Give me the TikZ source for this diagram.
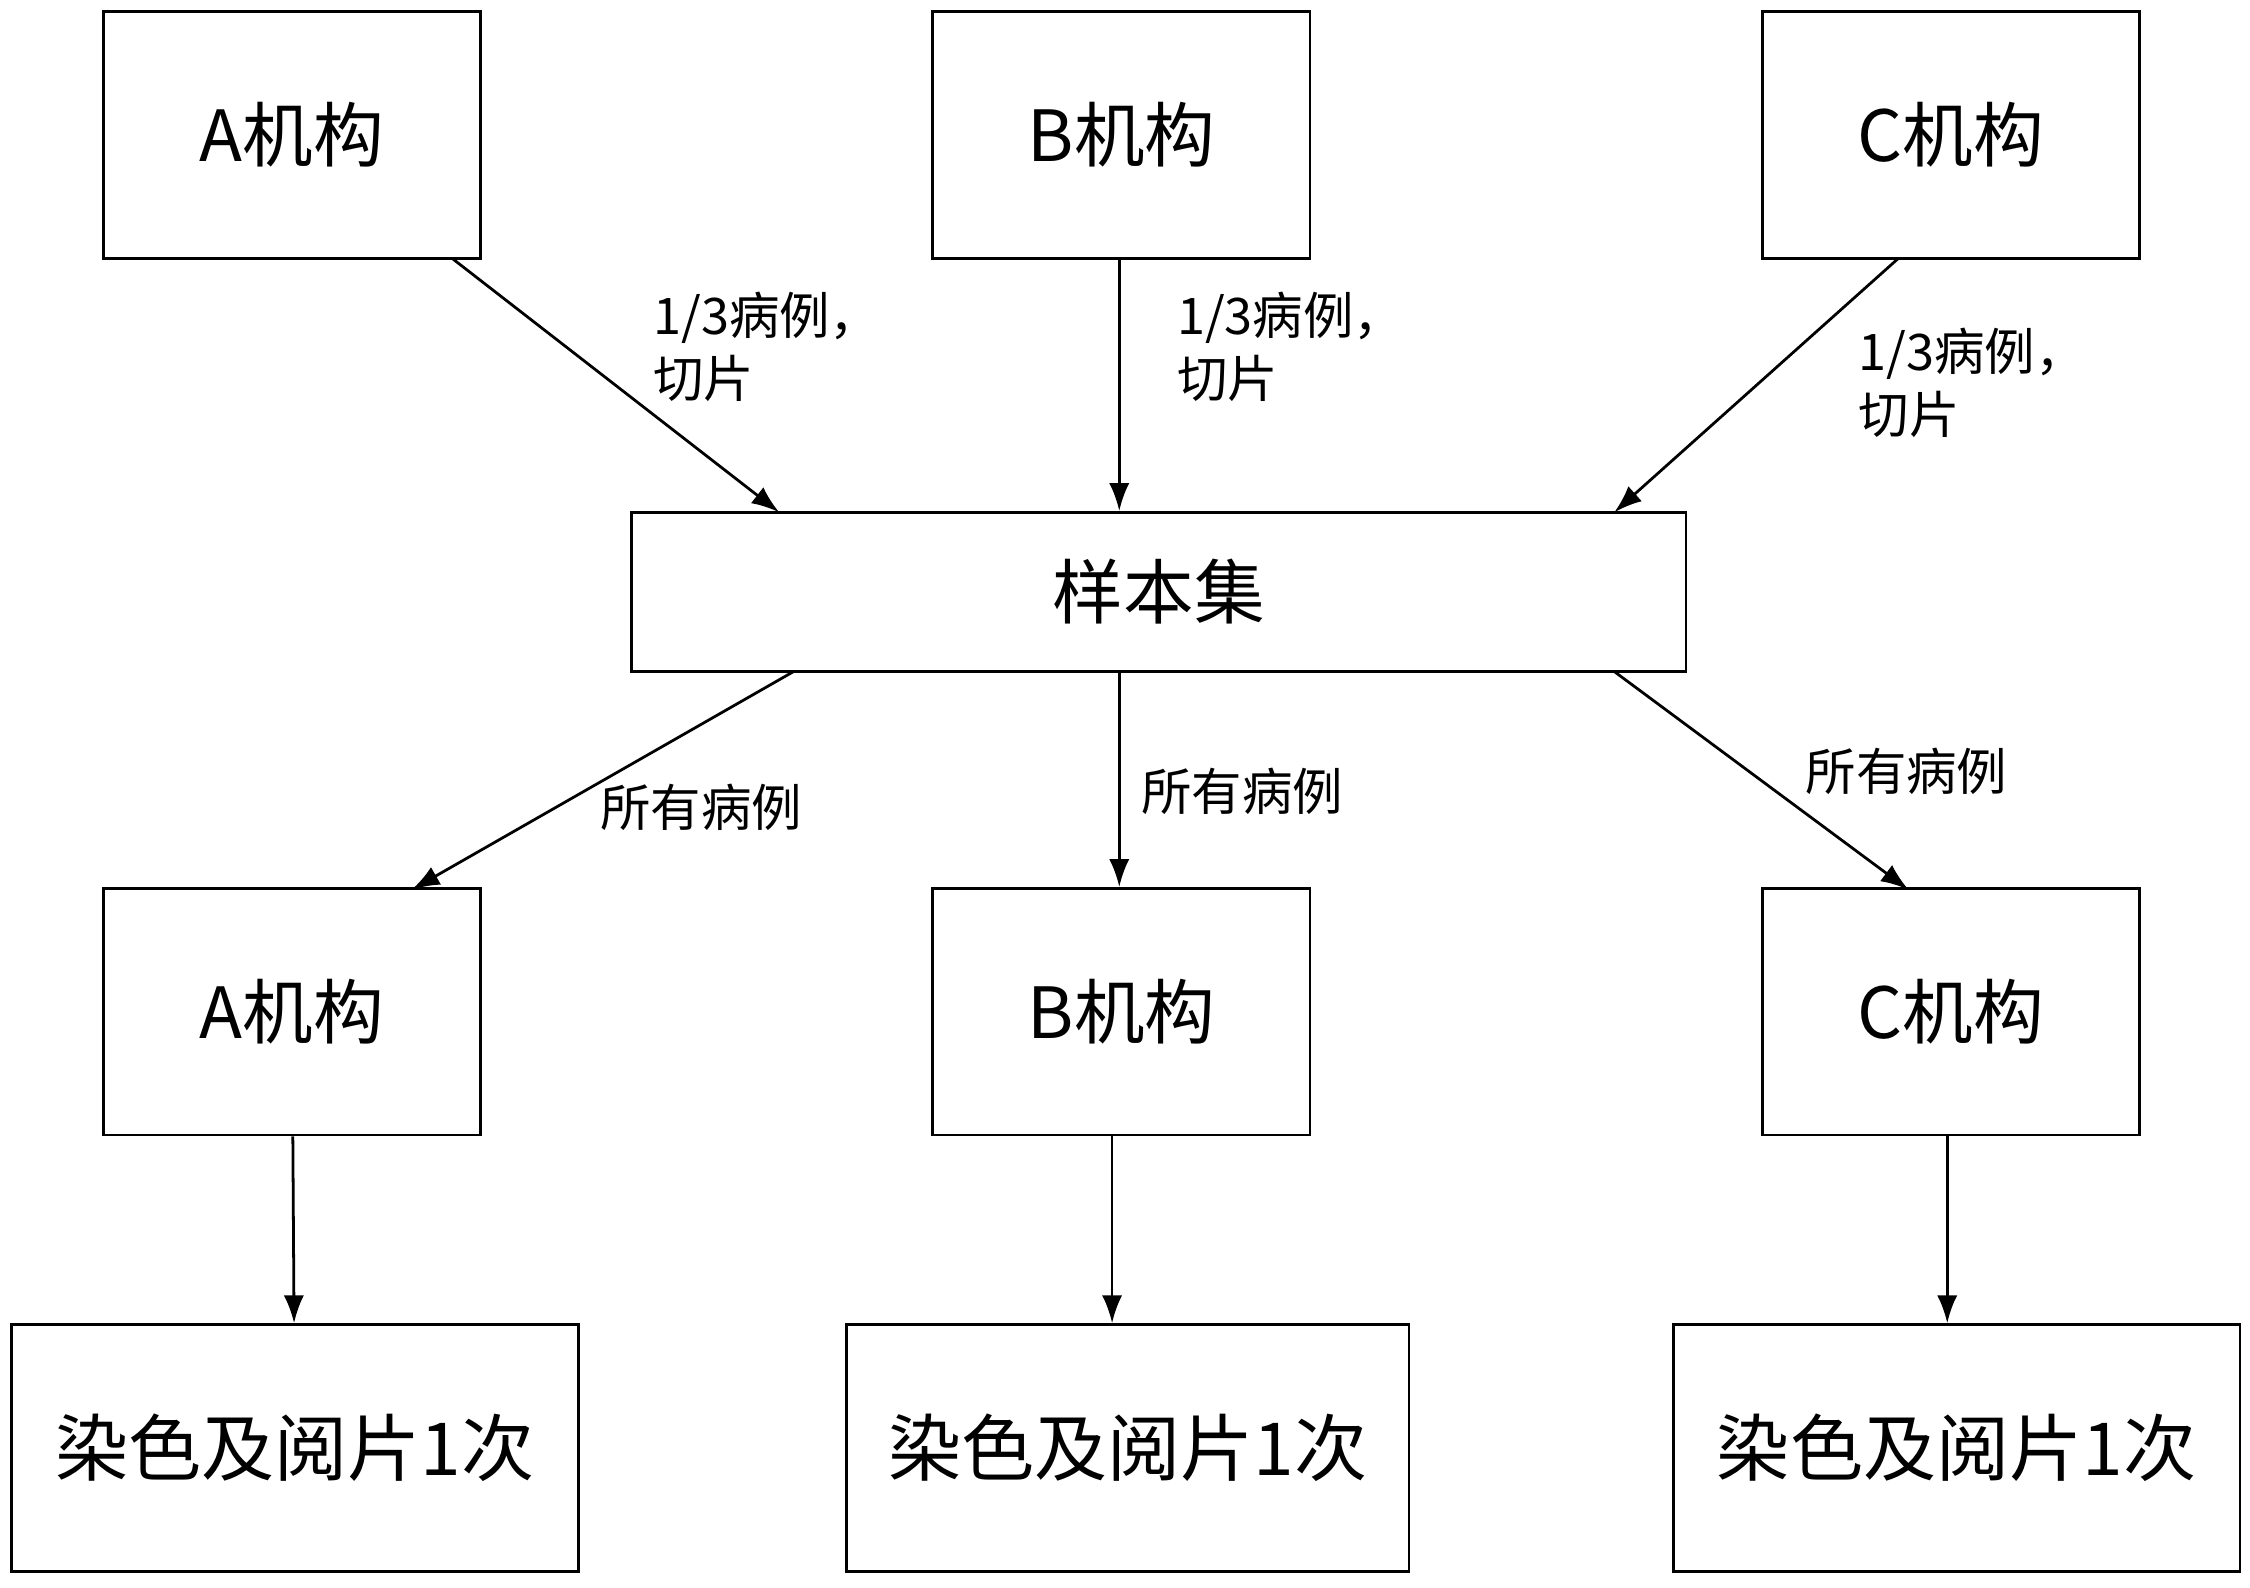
\documentclass[tikz,border=0pt]{standalone}
\usepackage{fontspec}
\setmainfont{Noto Sans CJK SC}
\usetikzlibrary{arrows.meta}
\begin{document}
\begin{tikzpicture}[x=0.02cm,y=-0.02cm,
  box/.style={draw,line width=1.1pt,minimum width=5.26cm,minimum height=3.44cm,font=\fontsize{28}{32}\selectfont,inner sep=0pt},
  bbox/.style={box,minimum width=7.9cm},
  arr/.style={-{Latex[length=11pt,width=8pt]},line width=1.1pt},
  lab/.style={font=\fontsize{20}{25}\selectfont,align=left,anchor=north west,inner sep=0pt}]
\useasboundingbox (0,0) rectangle (1568,1106);
\node[box] (a1) at (203.5,94) {A机构};
\node[box] (b1) at (781.5,94) {B机构};
\node[box] (c1) at (1359.5,94) {C机构};
\node[box,minimum width=14.7cm,minimum height=2.22cm] (s) at (807.5,412.5) {样本集};
\node[box] (a2) at (203.5,705) {A机构};
\node[box] (b2) at (781.5,705) {B机构};
\node[box] (c2) at (1359.5,705) {C机构};
\node[bbox,font=\fontsize{29}{33}\selectfont] (a3) at (205.5,1009) {染色及阅片1次};
\node[bbox,minimum width=7.84cm,font=\fontsize{29}{33}\selectfont] (b3) at (786,1009) {染色及阅片1次};
\node[bbox,font=\fontsize{29}{33}\selectfont] (c3) at (1363.5,1009) {染色及阅片1次};
\coordinate (pa1) at (315,180); \coordinate (sa) at (543,357);
\coordinate (pc1) at (1323,180); \coordinate (sc) at (1125,357);
\coordinate (sa2) at (553,468); \coordinate (pa2) at (287,620);
\coordinate (sc2) at (1125,468); \coordinate (pc2) at (1330,620);
\draw[arr] (pa1) -- (sa);
\draw[arr] (b1.south -| 780,0) -- (s.north -| 780,0);
\draw[arr] (pc1) -- (sc);
\draw[arr] (sa2) -- (pa2);
\draw[arr] (s.south -| 780,0) -- (b2.north -| 780,0);
\draw[arr] (sc2) -- (pc2);
\draw[arr] (a2) -- (a3);
\draw[arr] (b2.south -| 775,0) -- (b3.north -| 775,0);
\draw[arr] (c2.south -| 1357,0) -- (c3.north -| 1357,0);
\node[lab] (l1) at (455,203) {1/3病例，\\切片};
\node[lab] (l2) at (820,203) {1/3病例，\\切片};
\node[lab] (l3) at (1295,228) {1/3病例，\\切片};
\node[lab] (m1) at (418,546) {所有病例};
\node[lab] (m2) at (795,535) {所有病例};
\node[lab] (m3) at (1258,521) {所有病例};
\end{tikzpicture}
\end{document}
